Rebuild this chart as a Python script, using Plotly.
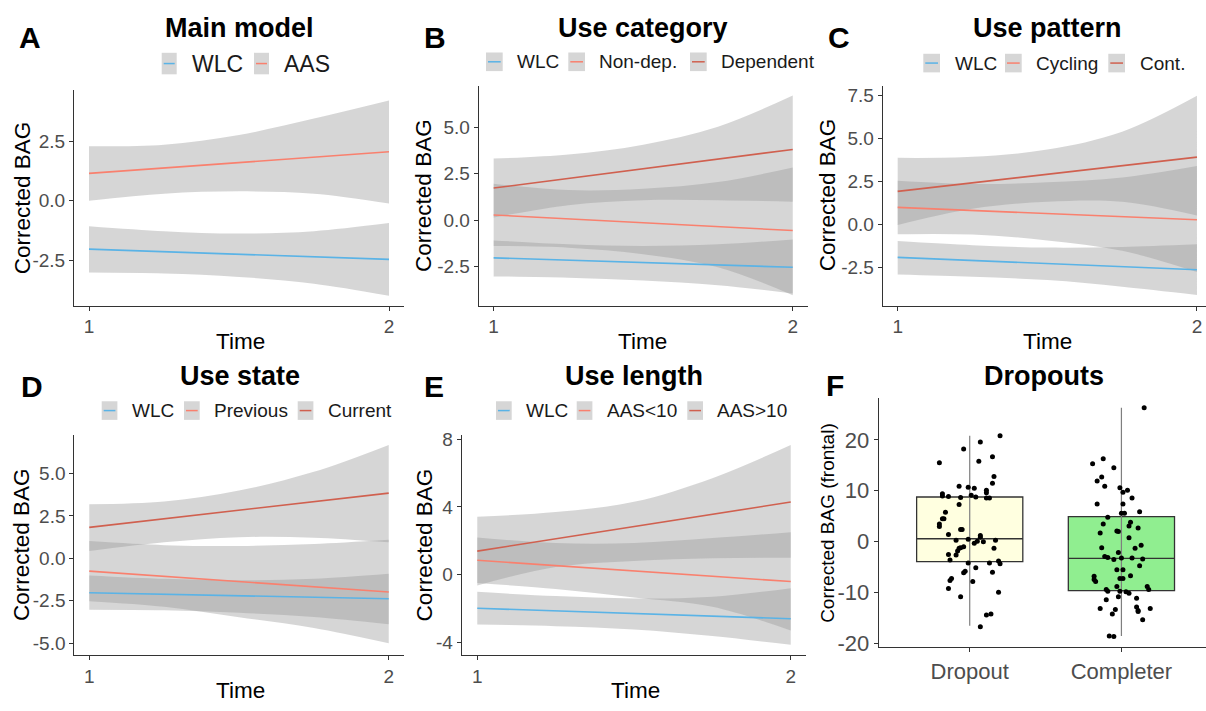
import plotly.graph_objects as go

W, H = 1206, 711
FONT = "Liberation Sans, Arial, sans-serif"

# ---------------- data ----------------
t_line = [1, 2]
t_band = [1, 1.25, 1.5, 1.75, 2]

# A: Main model
A_wlc_line = [-2.04, -2.47]
A_wlc_hi = [-1.07, -1.28, -1.38, -1.28, -0.94]
A_wlc_lo = [-3.03, -3.07, -3.21, -3.50, -4.01]
A_aas_line = [1.16, 2.07]
A_aas_hi = [2.30, 2.37, 2.78, 3.47, 4.23]
A_aas_lo = [0.00, 0.30, 0.40, 0.30, -0.11]

# B: Use category
B_wlc_line = [-2.03, -2.54]
B_wlc_hi = [-1.09, -1.30, -1.39, -1.30, -1.04]
B_wlc_lo = [-3.03, -3.10, -3.25, -3.51, -3.95]
B_nd_line = [0.28, -0.56]
B_nd_hi = [1.96, 1.62, 1.69, 2.05, 2.84]
B_nd_lo = [-1.39, -1.48, -1.83, -2.54, -4.04]
B_dep_line = [1.73, 3.81]
B_dep_hi = [3.32, 3.54, 4.07, 5.04, 6.72]
B_dep_lo = [0.14, 0.81, 1.08, 1.08, 0.99]

# C: Use pattern
C_wlc_line = [-1.94, -2.66]
C_wlc_hi = [-0.99, -1.23, -1.37, -1.33, -1.18]
C_wlc_lo = [-2.94, -3.07, -3.26, -3.64, -4.12]
C_cyc_line = [0.97, 0.25]
C_cyc_hi = [2.52, 2.33, 2.43, 2.71, 3.38]
C_cyc_lo = [-0.59, -0.61, -0.95, -1.56, -2.79]
C_cont_line = [1.90, 3.89]
C_cont_hi = [3.85, 3.91, 4.33, 5.37, 7.46]
C_cont_lo = [-0.05, 0.89, 1.30, 1.30, 0.50]

# D: Use state
D_wlc_line = [-2.02, -2.38]
D_wlc_hi = [-1.00, -1.20, -1.29, -1.20, -0.90]
D_wlc_lo = [-3.02, -3.05, -3.20, -3.45, -3.88]
D_prev_line = [-0.75, -1.98]
D_prev_hi = [1.02, 0.78, 0.73, 0.85, 1.10]
D_prev_lo = [-2.52, -2.85, -3.47, -4.10, -5.00]
D_cur_line = [1.83, 3.85]
D_cur_hi = [3.19, 3.35, 4.00, 5.10, 6.69]
D_cur_lo = [0.44, 0.95, 1.25, 1.22, 0.95]

# E: Use length
E_wlc_line = [-1.99, -2.61]
E_wlc_hi = [-1.02, -1.27, -1.41, -1.31, -0.80]
E_wlc_lo = [-2.95, -3.05, -3.24, -3.63, -4.15]
E_lt_line = [0.85, -0.41]
E_lt_hi = [2.20, 1.87, 1.87, 2.16, 2.51]
E_lt_lo = [-0.50, -0.85, -1.35, -1.90, -3.30]
E_gt_line = [1.39, 4.29]
E_gt_hi = [3.42, 3.70, 4.30, 5.70, 7.66]
E_gt_lo = [-0.64, 0.45, 0.81, 0.97, 1.00]

# F: Dropouts
F_categories = ["Dropout", "Completer"]
F_q1 = [-3.91, -9.60]
F_median = [0.58, -3.27]
F_q3 = [8.78, 4.94]
F_lowerfence = [-16.5, -18.5]
F_upperfence = [20.8, 26.3]
F_drop_jitter = [-0.20, -0.04, 0.07, 0.20, 0.06, 0.15, 0.16, 0.15, -0.18, -0.18, -0.14, -0.07, -0.01,
                 0.03, -0.06, 0.01, 0.04, 0.11, 0.11, 0.11, 0.13, -0.16, -0.17, -0.18, -0.20, -0.20,
                 -0.07, -0.05, -0.06, -0.14, 0.07, 0.07, -0.09, -0.01, 0.03, 0.05, 0.09, 0.17, 0.16,
                 -0.14, -0.08, -0.07, -0.06, -0.04, -0.09, -0.13, -0.01, -0.03, -0.04, 0.04, 0.19,
                 0.20, 0.13, 0.15, 0.02, -0.12, -0.13, -0.14, -0.06, 0.19, 0.11, 0.14, 0.07]
F_drop_values = [15.5, 18.2, 19.6, 20.8, 15.8, 16.7, 12.8, 11.5, 9.4, 9.0, 8.9, 10.9, 10.7,
                 10.5, 8.7, 9.1, 8.8, 10.1, 9.6, 8.6, 8.6, 5.8, 4.5, 4.5, 3.5, 3.0,
                 7.3, 2.4, 2.4, 1.4, 1.2, 0.9, 0.3, 0.5, -0.3, 0.1, 0.0, 0.3, -1.3,
                 -2.5, -1.8, -1.3, -1.2, -1.0, -2.6, -3.6, -4.2, -5.8, -6.1, -5.1, -3.8,
                 -4.3, -4.2, -6.0, -7.8, -7.2, -7.6, -9.2, -10.8, -9.9, -14.4, -14.2, -16.7]
F_comp_jitter = [0.15, -0.12, -0.19, -0.13, -0.16, -0.05, -0.11, -0.01, 0.01, 0.04, 0.07, -0.16, 0.01,
                 -0.09, 0.00, 0.02, 0.12, -0.12, 0.06, 0.05, 0.11, -0.14, -0.03, -0.02, 0.05, 0.13,
                 -0.13, -0.02, 0.09, -0.11, -0.09, -0.05, 0.00, 0.07, 0.14, 0.12, -0.03, 0.01, 0.06,
                 -0.18, -0.18, -0.17, -0.01, 0.01, -0.10, -0.09, -0.03, -0.01, 0.03, 0.05, 0.17, 0.18,
                 -0.10, -0.02, 0.10, 0.10, 0.11, 0.19, -0.14, -0.04, -0.06, 0.14, -0.08, -0.05, 0.11]
F_comp_values = [26.3, 16.3, 15.3, 12.7, 11.9, 14.5, 10.9, 10.6, 9.7, 10.1, 8.6, 7.4, 7.4,
                 4.8, 5.6, 5.6, 5.9, 3.5, 3.8, 3.1, 2.7, 1.7, 2.1, 2.0, 0.8, -0.7,
                 -1.2, -2.1, -1.3, -2.9, -3.1, -3.5, -3.2, -3.2, -3.4, -4.7, -5.5, -5.5, -6.7,
                 -6.8, -7.4, -7.8, -7.2, -7.2, -9.4, -9.7, -8.8, -9.7, -9.8, -10.1, -8.8, -9.4,
                 -11.4, -10.8, -11.1, -12.8, -13.5, -13.1, -13.1, -13.3, -14.2, -15.3, -18.5, -18.6, -13.7]

# tick values
A_yticks = [-2.5, 0.0, 2.5]
B_yticks = [-2.5, 0.0, 2.5, 5.0]
C_yticks = [-2.5, 0.0, 2.5, 5.0, 7.5]
D_yticks = [-5.0, -2.5, 0.0, 2.5, 5.0]
E_yticks = [-4, 0, 4, 8]
F_yticks = [-20, -10, 0, 10, 20]
time_ticks = [1, 2]

# ---------------- styling ----------------
COL_WLC = "#5AB3E6"
COL_LIGHT = "#F9806E"
COL_DARK = "#D0604F"
RIBBON = "rgba(153,153,153,0.4)"
AXIS_COL = "#333333"
TICK_TXT = "#4D4D4D"


def px(x):
    return x / W


def py(y):
    return 1 - y / H


def labels(vals, fmt):
    return [format(v, fmt) for v in vals]


fig = go.Figure()

# panel boxes in page pixels: (x0, x1, ytop, ybottom)
panels = [
    dict(box=(74, 404, 86, 306), xr=[0.95, 2.05], yr=[-4.42, 4.67], yt=A_yticks, fmt=".1f",
         series=[("WLC", A_wlc_line, A_wlc_lo, A_wlc_hi, COL_WLC),
                 ("AAS", A_aas_line, A_aas_lo, A_aas_hi, COL_LIGHT)]),
    dict(box=(478.7, 807.7, 81.7, 306), xr=[0.95, 2.05], yr=[-4.60, 7.23], yt=B_yticks, fmt=".1f",
         series=[("WLC", B_wlc_line, B_wlc_lo, B_wlc_hi, COL_WLC),
                 ("Non-dep.", B_nd_line, B_nd_lo, B_nd_hi, COL_LIGHT),
                 ("Dependent", B_dep_line, B_dep_lo, B_dep_hi, COL_DARK)]),
    dict(box=(882.7, 1206, 81.7, 306), xr=[0.95, 0.95 + (1206 - 882.7) / 299.3], yr=[-4.74, 8.03],
         yt=C_yticks, fmt=".1f",
         series=[("WLC", C_wlc_line, C_wlc_lo, C_wlc_hi, COL_WLC),
                 ("Cycling", C_cyc_line, C_cyc_lo, C_cyc_hi, COL_LIGHT),
                 ("Cont.", C_cont_line, C_cont_lo, C_cont_hi, COL_DARK)]),
    dict(box=(74.3, 403.7, 438.3, 663.3), xr=[0.95, 2.05], yr=[-5.71, 7.27], yt=D_yticks, fmt=".1f",
         series=[("WLC", D_wlc_line, D_wlc_lo, D_wlc_hi, COL_WLC),
                 ("Previous", D_prev_line, D_prev_lo, D_prev_hi, COL_LIGHT),
                 ("Current", D_cur_line, D_cur_lo, D_cur_hi, COL_DARK)]),
    dict(box=(461.6, 806.4, 438.3, 663.3), xr=[0.95, 2.05], yr=[-4.77, 8.25], yt=E_yticks, fmt="d",
         series=[("WLC", E_wlc_line, E_wlc_lo, E_wlc_hi, COL_WLC),
                 ("AAS<10", E_lt_line, E_lt_lo, E_lt_hi, COL_LIGHT),
                 ("AAS>10", E_gt_line, E_gt_lo, E_gt_hi, COL_DARK)]),
]

axis_common = dict(showline=True, linecolor=AXIS_COL, linewidth=1, ticks="outside", ticklen=4,
                   tickcolor=AXIS_COL, tickwidth=1, showgrid=False, zeroline=False,
                   tickfont=dict(family=FONT, size=19, color=TICK_TXT), fixedrange=True)

for i, p in enumerate(panels, start=1):
    x0, x1, yt_, yb_ = p["box"]
    xa = "xaxis" if i == 1 else f"xaxis{i}"
    ya = "yaxis" if i == 1 else f"yaxis{i}"
    xref = "x" if i == 1 else f"x{i}"
    yref = "y" if i == 1 else f"y{i}"
    fig.layout[xa] = dict(domain=[px(x0), min(1.0, px(x1))], range=p["xr"], anchor=yref,
                          tickvals=time_ticks, ticktext=[str(v) for v in time_ticks], **axis_common)
    fig.layout[ya] = dict(domain=[py(yb_), py(yt_)], range=p["yr"], anchor=xref,
                          tickvals=p["yt"], ticktext=labels(p["yt"], p["fmt"]), **axis_common)
    for (lab, line, lo, hi, col) in p["series"]:
        fig.add_trace(go.Scatter(x=t_band, y=hi, mode="lines", line=dict(width=0, shape="spline"),
                                 xaxis=xref, yaxis=yref, showlegend=False, hoverinfo="skip"))
        fig.add_trace(go.Scatter(x=t_band, y=lo, mode="lines", line=dict(width=0, shape="spline"),
                                 fill="tonexty", fillcolor=RIBBON,
                                 xaxis=xref, yaxis=yref, showlegend=False, hoverinfo="skip"))
    for (lab, line, lo, hi, col) in p["series"]:
        fig.add_trace(go.Scatter(x=t_line, y=line, mode="lines", line=dict(width=1.6, color=col),
                                 xaxis=xref, yaxis=yref, showlegend=False, name=lab))

# ---------------- panel F ----------------
fx0, fx1, fyt, fyb = 878.7, 1206, 400, 655
big_tick = dict(family=FONT, size=22, color=TICK_TXT)
fig.layout["xaxis6"] = dict(domain=[px(fx0), 1.0], range=[0.4, 0.4 + (fx1 - fx0) / 151.7], anchor="y6",
                            tickvals=[1, 2], ticktext=F_categories,
                            **{**axis_common, "tickfont": big_tick})
fig.layout["yaxis6"] = dict(domain=[py(fyb), py(fyt)], range=[-20.7, 28.3], anchor="x6",
                            tickvals=F_yticks, ticktext=labels(F_yticks, "d"),
                            **{**axis_common, "tickfont": big_tick})
box_fill = ["#FFFFE0", "#90EE90"]
for k, cat in enumerate(F_categories):
    pos = k + 1
    fig.add_trace(go.Scatter(x=[pos, pos], y=[F_lowerfence[k], F_upperfence[k]], mode="lines",
                             line=dict(color="#7F7F7F", width=1.2), xaxis="x6", yaxis="y6",
                             showlegend=False, hoverinfo="skip"))
    fig.add_trace(go.Box(x=[pos], q1=[F_q1[k]], median=[F_median[k]], q3=[F_q3[k]],
                         lowerfence=[F_q1[k]], upperfence=[F_q3[k]], width=0.7,
                         fillcolor=box_fill[k], line=dict(color="#333333", width=1.3),
                         boxpoints=False, xaxis="x6", yaxis="y6", showlegend=False, name=cat))
fig.add_trace(go.Scatter(x=[1 + j for j in F_drop_jitter], y=F_drop_values, mode="markers",
                         marker=dict(color="black", size=5), xaxis="x6", yaxis="y6", showlegend=False))
fig.add_trace(go.Scatter(x=[2 + j for j in F_comp_jitter], y=F_comp_values, mode="markers",
                         marker=dict(color="black", size=5), xaxis="x6", yaxis="y6", showlegend=False))

# ---------------- annotations ----------------
ann = []
shapes = []


def text(x, y, s, size, bold=False, xanchor="center", angle=0, color="black"):
    ann.append(dict(x=px(x), y=py(y), xref="paper", yref="paper", text=f"<b>{s}</b>" if bold else s,
                    showarrow=False, xanchor=xanchor, yanchor="middle", textangle=angle,
                    font=dict(family=FONT, size=size, color=color)))


for lab, x, y in [("A", 17, 32), ("B", 422, 32), ("C", 826, 32), ("D", 19, 388.6), ("E", 422, 388.6),
                  ("F", 824, 387.6)]:
    text(x, y, lab, 30, bold=True, xanchor="left")

for s, x, y in [("Main model", 239, 22), ("Use category", 643, 22), ("Use pattern", 1047, 22),
                ("Use state", 240, 377.6), ("Use length", 634, 377.6), ("Dropouts", 1044, 377.6)]:
    text(x, y, s, 27, bold=True)

for x, y in [(22.5, 196), (424, 194), (828.3, 193), (21.7, 550), (424.2, 550.8)]:
    text(x, y, "Corrected BAG", 22.5, angle=-90)
text(828, 528, "Corrected BAG (frontal)", 19, angle=-90)
for x, y in [(240, 342.5), (642.5, 342.5), (1047, 342.5), (240, 699), (635, 699)]:
    text(x, y, "Time", 22.5)

legend_specs = [
    (panels[0], [161.7, 254], 28.3, 58.8, 15, 22, 23),
    (panels[1], [486, 568.3, 690], 29, 57, 16.7, 19, 19),
    (panels[2], [923.3, 1005, 1108.3], 29.4, 58.3, 16.7, 19, 19),
    (panels[3], [101.7, 184, 297.7], 28.3, 413.3, 15.7, 19, 19),
    (panels[4], [496, 576.7, 687.3], 28, 413.3, 15.7, 19, 19),
]
for p, kx, toff, yc, kw, kh, fs in legend_specs:
    for (lab, line, lo, hi, col), x in zip(p["series"], kx):
        shapes.append(dict(type="rect", xref="paper", yref="paper", x0=px(x), x1=px(x + kw),
                           y0=py(yc + kh / 2), y1=py(yc - kh / 2), fillcolor="#D6D6D6", line=dict(width=0)))
        shapes.append(dict(type="line", xref="paper", yref="paper", x0=px(x + 2), x1=px(x + kw - 2),
                           y0=py(yc), y1=py(yc), line=dict(color=col, width=1.5)))
        text(x + toff, yc, lab, fs, xanchor="left", color="#1A1A1A")

fig.update_layout(width=W, height=H, margin=dict(l=0, r=0, t=0, b=0), plot_bgcolor="white",
                  paper_bgcolor="white", annotations=ann, shapes=shapes, showlegend=False,
                  font=dict(family=FONT))
fig.write_html("out.html", config={"displayModeBar": False},
               post_script="document.body.style.margin='0';document.body.style.overflow='hidden';")
